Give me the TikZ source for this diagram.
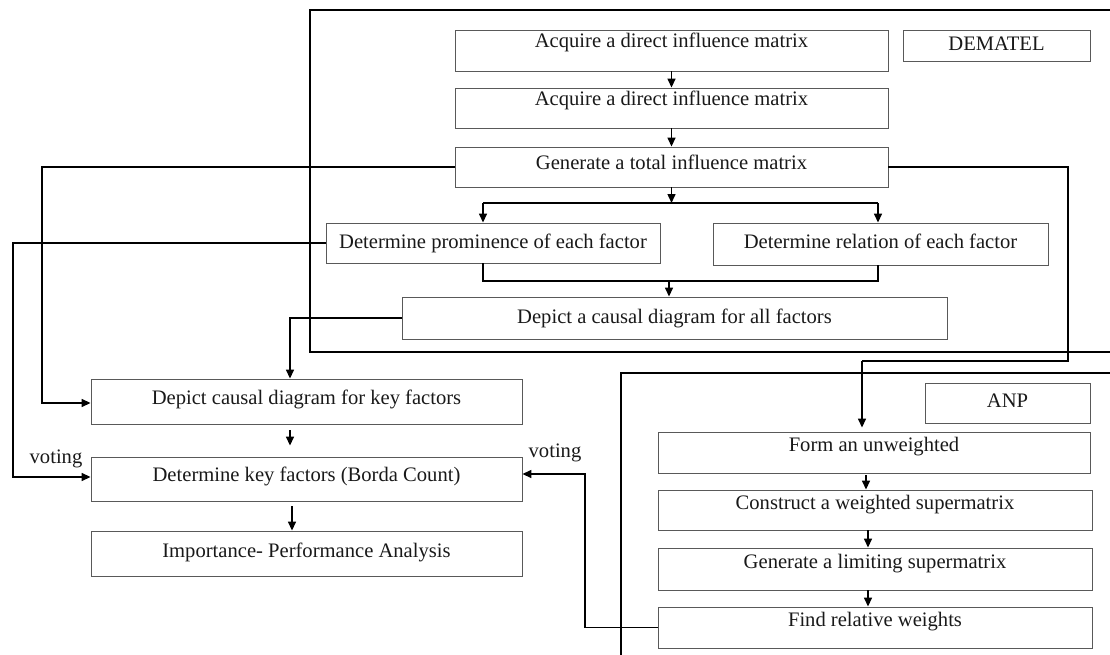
\documentclass[tikz,border=0pt]{standalone}
\usepackage{fontspec}
\setmainfont{Liberation Serif}
\usetikzlibrary{arrows.meta}
\begin{document}
\begin{tikzpicture}[x=1pt,y=-1pt,
  box/.style={draw=black!65,line width=0.9pt,inner sep=0pt,rectangle},
  txt/.style={inner sep=0pt,font=\fontsize{20.6}{24}\selectfont,text=black!90,text height=13pt,text depth=4pt},
  frame/.style={line width=2.4pt,black},
  conn/.style={line width=1.5pt,black},
  arr/.style={conn,-{Triangle[length=9pt,width=8pt]}}]
\useasboundingbox (0,0) rectangle (1110,655);
% frames
\draw[frame] (1112,10) -- (310,10) -- (310,352) -- (1112,352);
\draw[frame] (1112,373) -- (621,373) -- (621,657);
% DEMATEL boxes
\node[box,minimum width=433pt,minimum height=41pt] (b1) at (671.5,50.5) {};
\node[txt] (t1) at (671.5,43.5) {Acquire a direct influence matrix};
\node[box,minimum width=433pt,minimum height=40pt] (b2) at (671.5,108) {};
\node[txt] (t2) at (671.5,101.5) {Acquire a direct influence matrix};
\node[box,minimum width=433pt,minimum height=40pt] (b3) at (671.5,167) {};
\node[txt] (t3) at (671.5,165.5) {Generate a total influence matrix};
\node[box,minimum width=187pt,minimum height=31pt] (dem) at (996.5,45.5) {};
\node[txt] (tdem) at (996.5,46.5) {DEMATEL};
\node[box,minimum width=334pt,minimum height=40pt] (prom) at (493,243) {};
\node[txt] (tprom) at (493,243.5) {Determine prominence of each factor};
\node[box,minimum width=335pt,minimum height=42pt] (rel) at (880.5,244) {};
\node[txt] (trel) at (880.5,243.5) {Determine relation of each factor};
\node[box,minimum width=545pt,minimum height=42pt] (call) at (674.5,318) {};
\node[txt] (tcall) at (674.5,318.5) {Depict a causal diagram for all factors};
% left column
\node[box,minimum width=431pt,minimum height=45pt] (key) at (306.5,401.5) {};
\node[txt] (tkey) at (306.5,399.5) {Depict causal diagram for key factors};
\node[box,minimum width=431pt,minimum height=44pt] (borda) at (306.5,479) {};
\node[txt] (tborda) at (306.5,476.5) {Determine key factors (Borda Count)};
\node[box,minimum width=431pt,minimum height=45pt] (ipa) at (306.5,553.5) {};
\node[txt] (tipa) at (306.5,552.5) {Importance- Performance Analysis};
% ANP boxes
\node[box,minimum width=165pt,minimum height=40pt] (anp) at (1007.5,403) {};
\node[txt] (tanp) at (1007.5,402.5) {ANP};
\node[box,minimum width=432pt,minimum height=41pt] (form) at (874,452.5) {};
\node[txt] (tform) at (874,446.5) {Form an unweighted};
\node[box,minimum width=434pt,minimum height=40pt] (cons) at (875,510) {};
\node[txt] (tcons) at (875,504.5) {Construct a weighted supermatrix};
\node[box,minimum width=434pt,minimum height=42pt] (lim) at (875,569) {};
\node[txt] (tlim) at (875,563.5) {Generate a limiting supermatrix};
\node[box,minimum width=434pt,minimum height=41pt] (find) at (875,627.5) {};
\node[txt] (tfind) at (875,621.5) {Find relative weights};
% voting labels
\node[txt] (v1) at (56,459) {voting};
\node[txt] (v2) at (555,453) {voting};
% coordinates
\coordinate (br) at (671.5,203);
\coordinate (mg) at (669,281);
\coordinate (rt) at (1068,167);
\coordinate (rb) at (1068,361);
\coordinate (ra) at (862,361);
\coordinate (l1) at (42,167);
\coordinate (l2) at (13,243);
\coordinate (ca) at (290,318);
\coordinate (fa) at (585,627.5);
% DEMATEL connectors
\draw[arr] (b1.south) -- (b2.north);
\draw[arr] (b2.south) -- (b3.north);
\draw[arr] (b3.south) -- (br);
\draw[conn] (483,203) -- (878,203);
\draw[arr] (483,203) -- ([xshift=-10pt]prom.north);
\draw[arr] (878,203) -- ([xshift=-2.5pt]rel.north);
\draw[conn] ([xshift=-10pt]prom.south) |- (mg) -| ([xshift=-2.5pt]rel.south);
\draw[arr] (mg) -- ([xshift=-5.5pt]call.north);
% to left column
\draw[arr] (b3.west) -- (l1) |- ([yshift=-1.5pt]key.west);
\draw[arr] (prom.west) -- (l2) |- ([yshift=2pt]borda.west);
\draw[arr] (call.west) -- (ca) -- ([xshift=-16.5pt]key.north);
\draw[arr,shorten <=6pt,shorten >=11pt] ([xshift=-16.5pt]key.south) -- ([xshift=-16.5pt]borda.north);
\draw[arr,shorten <=5pt] ([xshift=-14.5pt]borda.south) -- ([xshift=-14.5pt]ipa.north);
% to ANP
\draw[conn] (b3.east) -- (rt) -- (rb) -- (ra);
\draw[arr] (ra) -- ([xshift=-12pt,yshift=4pt]form.north);
\draw[arr,shorten <=2pt] ([xshift=-8pt]form.south) -- ([xshift=-9pt]cons.north);
\draw[arr] ([xshift=-7pt]cons.south) -- ([xshift=-7pt]lim.north);
\draw[arr] ([xshift=-7pt]lim.south) -- ([xshift=-7pt]find.north);
% ANP back to Borda
\draw[arr] (find.west) -- (fa) |- ([yshift=5pt]borda.east);
\end{tikzpicture}
\end{document}
